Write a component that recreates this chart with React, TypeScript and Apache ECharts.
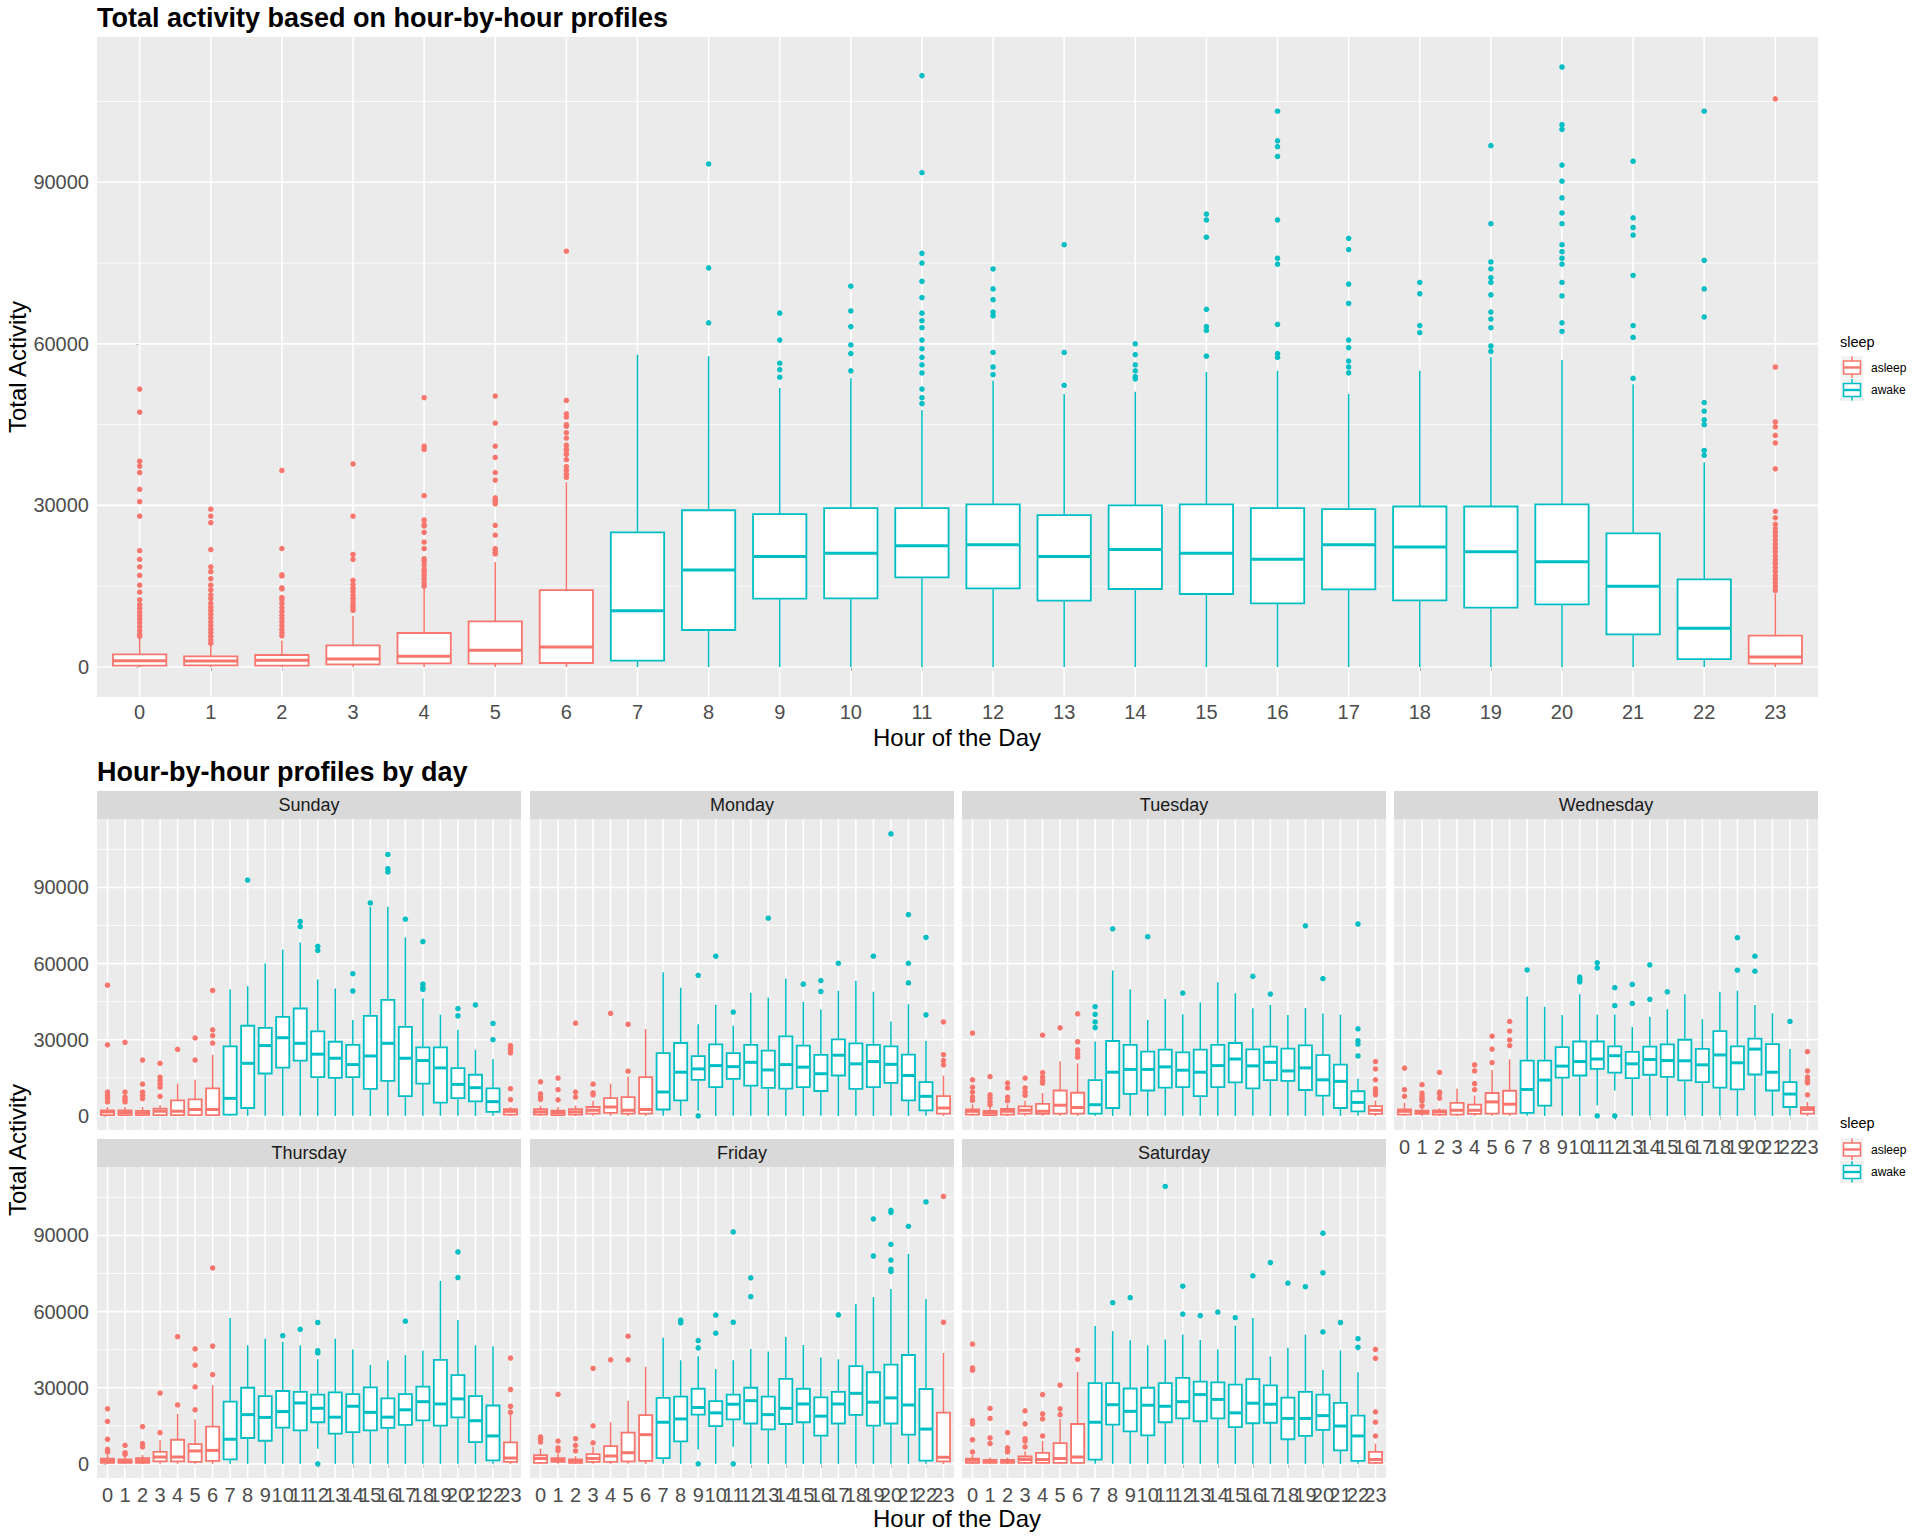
import React, { useEffect, useRef } from 'react';
import * as echarts from 'echarts';

// ---------- categories / ticks ----------
const HOURS = [0, 1, 2, 3, 4, 5, 6, 7, 8, 9, 10, 11, 12, 13, 14, 15, 16, 17, 18, 19, 20, 21, 22, 23];
const SLEEP_BY_HOUR = [
  'asleep', 'asleep', 'asleep', 'asleep', 'asleep', 'asleep', 'asleep',
  'awake', 'awake', 'awake', 'awake', 'awake', 'awake', 'awake', 'awake',
  'awake', 'awake', 'awake', 'awake', 'awake', 'awake', 'awake', 'awake',
  'asleep',
];
const SLEEP_LEVELS = ['asleep', 'awake'];
const DAYS = ['Sunday', 'Monday', 'Tuesday', 'Wednesday', 'Thursday', 'Friday', 'Saturday'];
const Y_TICKS = [0, 30000, 60000, 90000];
const Y_MINOR = [15000, 45000, 75000, 105000];
const Y_MIN = -5570;
const Y_MAX = 116970;
const X_MIN = -0.6;
const X_MAX = 23.6;

// ---------- box statistics per hour: [lower whisker, Q1, median, Q3, upper whisker] ----------
const ALL_BOX = [
  [0, 250, 1180, 2350, 5300], [0, 310, 1110, 1980, 3900], [0, 250, 1240, 2230, 4900], [0, 490, 1480, 4020, 9500],
  [0, 680, 1980, 6310, 14600], [0, 620, 3090, 8470, 19500], [0, 740, 3710, 14290, 34300], [0, 1180, 10450, 25000, 58000],
  [0, 6870, 18000, 29100, 57700], [0, 12680, 20500, 28400, 51800], [0, 12740, 21100, 29500, 53600], [0, 16640, 22500, 29500, 47700],
  [0, 14600, 22700, 30200, 53200], [0, 12310, 20500, 28200, 50700], [0, 14480, 21800, 30000, 51100], [0, 13550, 21100, 30200, 54800],
  [0, 11820, 20000, 29500, 55000], [0, 14410, 22700, 29300, 50700], [0, 12370, 22300, 29800, 55000], [0, 11010, 21400, 29800, 57500],
  [0, 11630, 19550, 30200, 57000], [0, 6060, 14970, 24800, 52500], [0, 1480, 7180, 16270, 38000], [0, 620, 1860, 5810, 13600],
];
const ALL_OUT = [
  [51600, 47300, 38200, 37300, 36100, 33000, 30700, 28000, 21600, 20000, 18600, 17000, 15200, 13900, 12500, 11600, 10900, 10200, 9500, 8900, 8200, 7500, 6800, 6100, 5700],
  [29300, 28000, 26800, 21800, 18600, 17700, 16400, 15200, 14300, 13400, 12700, 11800, 11100, 10500, 9800, 9100, 8400, 7700, 7000, 6400, 5700, 5000, 4400],
  [36500, 22000, 17100, 16900, 14700, 14500, 12900, 12500, 11800, 11000, 10300, 9600, 9000, 8400, 7700, 7000, 6400, 5800],
  [37700, 28000, 20900, 20000, 16100, 15300, 14600, 14000, 13300, 12700, 12100, 11500, 11000, 10500],
  [50000, 41000, 40400, 31800, 27300, 26500, 26200, 25000, 23200, 22000, 20100, 19700, 19000, 18200, 17700, 17000, 16300, 15600, 15000],
  [50300, 45300, 41000, 38900, 36100, 34700, 31400, 31000, 30700, 30300, 26300, 24500, 22000, 21700, 21300, 21000],
  [77200, 49500, 47000, 46400, 45000, 44700, 43500, 42500, 41200, 40500, 40200, 39500, 38500, 37200, 36500, 35800, 35200],
  [],
  [93400, 74100, 63900],
  [65700, 60700, 56400, 55200, 53800],
  [70700, 66100, 63200, 59800, 58200, 55000],
  [109800, 91800, 76800, 75000, 71600, 68600, 65700, 64300, 63000, 60700, 59100, 57500, 56100, 54600, 51600, 50000, 48900],
  [73900, 70200, 68200, 65900, 65200, 58400, 55700, 54300],
  [78400, 58400, 52300],
  [60000, 58000, 56100, 55000, 53900, 53500],
  [84100, 83000, 79800, 66400, 63200, 62500, 57700],
  [103200, 97700, 96600, 94800, 83000, 75900, 74800, 63600, 58200, 57500],
  [79600, 77500, 71100, 67500, 60700, 59300, 56800, 55700, 54600],
  [71400, 69300, 63400, 62100],
  [96800, 82300, 75200, 73900, 72300, 71400, 69100, 65900, 64600, 63000, 59600, 58600],
  [111400, 100700, 99800, 93200, 90200, 87100, 84300, 82300, 78400, 77100, 75900, 74800, 71400, 68900, 63900, 62300],
  [93900, 83400, 81600, 80200, 72700, 63400, 61200, 53600],
  [103200, 75500, 70200, 65000, 49100, 47500, 45900, 45000, 40200, 39300],
  [105500, 55700, 45500, 44600, 43000, 41600, 36800, 28900, 27700, 26500, 25700, 25000, 24300, 23600, 22800, 22100, 21400, 20600, 19900, 19200, 18500, 17800, 17000, 16300, 15600, 14900, 14200],
];

const SUNDAY_BOX = [
  [0, 260, 1560, 2200, 3500], [0, 260, 1300, 2200, 3500], [0, 260, 1170, 1950, 3500], [0, 260, 1830, 2870, 4200],
  [0, 260, 1830, 6100, 12700], [0, 260, 2500, 6500, 14200], [0, 260, 2500, 10800, 24100], [0, 500, 6900, 27400, 49800],
  [0, 3100, 20700, 35500, 51100], [0, 16700, 27700, 34700, 60000], [0, 19000, 30800, 39000, 65500], [0, 21800, 28600, 42300, 68300],
  [0, 15300, 24300, 33300, 53700], [0, 15000, 22700, 29200, 50200], [0, 15300, 20200, 28000, 37800], [0, 10600, 23600, 39400, 82400],
  [0, 13800, 28600, 45700, 82400], [0, 7800, 22700, 35100, 70300], [0, 12700, 21800, 27000, 46300], [0, 5200, 18900, 27000, 39900],
  [0, 7000, 12400, 18800, 33900], [0, 5700, 11100, 16200, 26000], [0, 1600, 5600, 10800, 22400], [0, 500, 1800, 2600, 3500],
];
const SUNDAY_OUT = [
  [51500, 28000, 9400, 8100, 7400, 6800, 5500], [29000, 9400, 7400, 6400, 5500], [22000, 12500, 9400, 8100, 6800],
  [20700, 15300, 14000, 12700, 11300, 7700], [26200], [30700, 22000], [49400, 33900, 31600, 28700], [], [92900], [], [],
  [76600, 74600], [66800, 65200], [], [56000, 49200], [83900], [103000, 97400, 96100], [77500], [68700, 51900, 50500, 49800],
  [], [42300, 39400], [43700], [36400, 30000], [27700, 26600, 25700, 24800, 10700, 6400],
];

const MONDAY_BOX = [
  [0, 500, 1560, 2600, 4000], [0, 260, 1300, 2100, 3500], [0, 500, 1560, 2600, 4000], [0, 900, 2200, 3500, 6000],
  [0, 1200, 3500, 7000, 12700], [0, 900, 2200, 7400, 15500], [0, 900, 2500, 15300, 34200], [0, 2500, 9400, 24700, 56600],
  [0, 6100, 17200, 28700, 50500], [2000, 14200, 18500, 23500, 36100], [0, 11300, 19800, 28200, 43800], [0, 14600, 19400, 24700, 35500],
  [0, 11900, 21100, 28000, 48500], [0, 11000, 18100, 25700, 46600], [0, 10700, 20200, 31300, 54100], [0, 11300, 19200, 27700, 44900],
  [0, 9800, 16600, 24000, 41900], [0, 15900, 23900, 30100, 49300], [0, 10600, 20500, 28600, 53200], [0, 11300, 21400, 28000, 48900],
  [0, 13000, 20300, 27400, 37200], [0, 6100, 15900, 24100, 44000], [0, 2200, 7700, 13300, 29500], [0, 900, 3100, 7800, 15900],
];
const MONDAY_OUT = [
  [13400, 8700, 7400, 6500], [14900, 10300, 6300], [36500, 9400, 7400], [12500, 9100, 8300], [40400], [36100, 17600], [], [], [],
  [55400, 0], [62900], [40900], [], [77900], [], [51900], [53300, 49000], [60100], [], [62900], [111100],
  [79300, 60100, 52400], [70300, 39800], [37000, 24100, 21800, 20100],
];

const TUESDAY_BOX = [
  [0, 500, 1800, 2500, 4500], [0, 260, 1300, 2000, 3500], [0, 500, 1800, 2700, 4500], [0, 900, 2200, 3700, 6000],
  [0, 800, 1800, 4700, 9000], [0, 900, 4200, 10000, 21500], [0, 900, 3300, 9100, 20700], [0, 900, 4400, 14100, 29300],
  [0, 3100, 17200, 29500, 57300], [0, 8700, 18300, 28000, 49800], [0, 10000, 18300, 25300, 37800], [0, 11100, 19300, 26100, 46000],
  [0, 11300, 18000, 25000, 40000], [0, 7800, 17200, 26100, 44700], [0, 11300, 19800, 28000, 52600], [0, 13200, 22400, 28700, 48300],
  [0, 10800, 19700, 26200, 42400], [0, 14100, 21100, 27300, 43700], [0, 13800, 17700, 26500, 39700], [0, 10200, 18900, 27800, 42500],
  [0, 8000, 14200, 23900, 40300], [0, 3100, 13600, 20200, 39900], [0, 1800, 5300, 9700, 14600], [0, 800, 2200, 3800, 6000],
];
const TUESDAY_OUT = [
  [32600, 14200, 11300, 9400, 7400, 6100], [15500, 8300, 7000, 5700, 4400], [12900, 11000, 7400, 6000], [14900, 11000, 9400, 8100],
  [31800, 17000, 15300, 14000, 12900], [34700], [40200, 29200, 26000, 24400, 23100], [43000, 40000, 37000, 34800], [73700], [],
  [70600], [], [48400], [], [], [], [55000], [48000], [], [74900], [54100], [], [75600, 34300, 29600, 28300, 23600],
  [21400, 18500, 14200, 10700, 9400, 8300],
];

const WEDNESDAY_BOX = [
  [0, 500, 1800, 2500, 5200], [0, 800, 1600, 2100, 3000], [0, 500, 1600, 2200, 3000], [0, 500, 2200, 5100, 10700],
  [0, 800, 2200, 4400, 8000], [0, 900, 5500, 9000, 18100], [0, 900, 4600, 9900, 22300], [0, 1200, 10400, 21800, 47000],
  [0, 4000, 14100, 21800, 43000], [0, 15100, 19600, 27100, 39700], [0, 15900, 21400, 29300, 47900], [4200, 18500, 22400, 29300, 39800],
  [10000, 17000, 23700, 27400, 39900], [0, 14900, 20500, 25200, 35000], [0, 16200, 22200, 27300, 39100], [0, 15400, 21800, 28200, 42000],
  [0, 14000, 21700, 30000, 47900], [0, 13300, 20100, 26400, 38100], [0, 11100, 24000, 33400, 48900], [0, 10400, 20900, 27400, 49300],
  [0, 16300, 26300, 30400, 43700], [0, 10000, 17200, 28300, 40400], [0, 3500, 8600, 13300, 26300], [0, 900, 2500, 3400, 5500],
];
const WEDNESDAY_OUT = [
  [18800, 10300, 7700], [12300, 9000, 7800, 6800, 5900, 3900], [17100, 9400, 8700, 7000], [], [20100, 17700, 12700, 10300],
  [31400, 26300, 21000], [37200, 33400, 29900, 27700], [57500], [], [], [54700, 53700, 52800], [60300, 58300, 0],
  [50500, 43400, 0], [51800, 44300], [59500, 45900], [48900], [], [], [], [70200, 57400], [62900, 57000], [], [37200],
  [25300, 17700, 15300, 14000, 13000, 8300],
];

const THURSDAY_BOX = [
  [0, 400, 1300, 2100, 3500], [0, 400, 1200, 1800, 3000], [0, 400, 1300, 2300, 3500], [0, 1000, 2700, 4700, 9300],
  [0, 1000, 2700, 9500, 19700], [0, 800, 5100, 7800, 17500], [0, 1200, 5300, 14700, 31000], [0, 1800, 9700, 24500, 57500],
  [0, 10200, 19400, 30000, 46700], [0, 9100, 18300, 26700, 49300], [0, 14300, 20600, 28700, 48100], [0, 13200, 24000, 28400, 46600],
  [6000, 16400, 21900, 27300, 41200], [0, 11900, 18400, 28200, 49300], [0, 12500, 22700, 27500, 45100], [0, 13200, 20300, 30100, 39000],
  [0, 14200, 18400, 25800, 40700], [0, 15400, 21300, 27500, 42900], [0, 17100, 24500, 30400, 44600], [0, 15100, 23600, 41000, 72100],
  [0, 18300, 25600, 35000, 56700], [0, 8600, 17000, 26700, 46700], [0, 1400, 11000, 23000, 46300], [0, 800, 2300, 8500, 19300],
];
const THURSDAY_OUT = [
  [21700, 16700, 9700, 5700, 4700], [7300, 4400, 3700], [14700, 8000, 6700], [27900, 12300], [50100, 23200],
  [45300, 38900, 30300, 21300], [77200, 46400, 35200], [], [], [], [50500], [53000], [55700, 44600, 43700, 0], [], [], [],
  [], [56200], [], [], [83500, 73400], [], [], [41700, 29300, 22700, 20300],
];

const FRIDAY_BOX = [
  [0, 400, 2100, 3400, 6000], [0, 800, 1400, 2300, 4000], [0, 400, 1000, 1800, 3000], [0, 800, 2100, 3800, 6700],
  [0, 800, 3100, 7000, 16400], [0, 1000, 4400, 12300, 24900], [0, 1200, 11500, 19200, 38300], [0, 2300, 16400, 26000, 49700],
  [0, 8900, 17700, 26500, 40800], [5700, 19400, 22200, 29600, 42400], [0, 14900, 20100, 24700, 37300], [6700, 17500, 23500, 27300, 40800],
  [0, 15900, 24900, 30000, 45300], [0, 13600, 19400, 26500, 44300], [0, 15700, 21900, 33500, 50000], [0, 16400, 23600, 29600, 46800],
  [0, 11100, 18800, 26200, 41900], [0, 15900, 23600, 28400, 41200], [0, 19300, 27800, 38500, 63000], [0, 15100, 24300, 36100, 65700],
  [0, 15900, 26000, 39100, 68900], [0, 11500, 23200, 42900, 82700], [0, 1300, 13700, 29500, 65000], [0, 1000, 2600, 20200, 43700],
];
const FRIDAY_OUT = [
  [10600, 9700, 8600], [27400, 9000, 6300, 5200], [9900, 7300, 5100], [37600, 15000, 8300], [41000], [50300, 41000], [], [],
  [56600, 55600], [48600, 45700, 0], [58600, 51500], [91400, 55800, 0], [73300, 65900], [], [], [], [], [58700], [],
  [96500, 81900], [99900, 99100, 86500, 80300, 76700, 75800], [93600], [103200], [105400, 55800],
];

const SATURDAY_BOX = [
  [0, 400, 1400, 2100, 3500], [0, 400, 1000, 1600, 2500], [0, 400, 1000, 1600, 2500], [0, 400, 1700, 2900, 5000],
  [0, 400, 1700, 4300, 9000], [0, 400, 2100, 8200, 17700], [0, 400, 2700, 15700, 36300], [0, 1700, 16400, 31800, 54300],
  [0, 15500, 23300, 31800, 52300], [0, 12800, 20700, 29700, 48700], [0, 11200, 23100, 30000, 46700], [0, 16400, 22700, 31800, 49000],
  [0, 17900, 24500, 33900, 51000], [0, 16800, 27300, 32400, 48800], [0, 17900, 25400, 32100, 45100], [0, 14500, 20100, 31200, 54500],
  [0, 16000, 23900, 33400, 57500], [0, 16200, 23500, 30900, 42300], [0, 9700, 17900, 26100, 45800], [0, 11000, 17900, 28400, 50900],
  [0, 13400, 19000, 27300, 37000], [0, 5300, 14900, 24000, 44700], [0, 1200, 11000, 19000, 36100], [0, 400, 1700, 4700, 8000],
];
const SATURDAY_OUT = [
  [47200, 37800, 36900, 17000, 15800, 9500, 4700], [21900, 17900, 10200, 8000], [12300, 6300, 5200, 4700],
  [20900, 15800, 9900, 9000, 6700], [27300, 19700, 17700, 11000], [31000, 21700, 19400], [44700, 41200], [], [63500], [65500],
  [], [109300], [70000, 59000], [58400], [59800], [57600], [74100], [79300], [71200], [69800], [90900, 75300, 52000], [55700],
  [49300, 45900], [45100, 41600, 20500, 16400, 11000],
];

const DAY_BOXES = [SUNDAY_BOX, MONDAY_BOX, TUESDAY_BOX, WEDNESDAY_BOX, THURSDAY_BOX, FRIDAY_BOX, SATURDAY_BOX];
const DAY_OUTS = [SUNDAY_OUT, MONDAY_OUT, TUESDAY_OUT, WEDNESDAY_OUT, THURSDAY_OUT, FRIDAY_OUT, SATURDAY_OUT];

// ---------- styling ----------
const FONT = '"Liberation Sans", Arial, Helvetica, sans-serif';
const COLORS: Record<string, string> = { asleep: '#F8766D', awake: '#00BFC4' };
const PANEL_BG = '#EBEBEB';
const STRIP_BG = '#D9D9D9';
const TICK_COLOR = '#333333';
const LABEL_COLOR = '#4D4D4D';

// label positions: the hours plus a blank sentinel at the axis end, so that ECharts'
// min/max label overlap fixing only ever hides the blank one
const X_LABEL_VALUES = [...HOURS, X_MAX];

const gridRender = (params: any, api: any) => {
  const cs = params.coordSys;
  const kind = api.value(2);
  if (kind === 2) {
    const p = api.coord([api.value(0), 0]);
    return { type: 'line', shape: { x1: p[0], y1: cs.y, x2: p[0], y2: cs.y + cs.height }, style: { stroke: '#FFFFFF', lineWidth: 1.6 } };
  }
  const p = api.coord([0, api.value(1)]);
  return {
    type: 'line',
    shape: { x1: cs.x, y1: p[1], x2: cs.x + cs.width, y2: p[1] },
    style: { stroke: '#FFFFFF', lineWidth: kind === 0 ? 1.6 : 0.8 },
  };
};

const boxRender = (color: string) => (params: any, api: any) => {
  const x = api.value(0);
  const lo = api.coord([x, api.value(1)]);
  const q1 = api.coord([x, api.value(2)]);
  const md = api.coord([x, api.value(3)]);
  const q3 = api.coord([x, api.value(4)]);
  const hi = api.coord([x, api.value(5)]);
  const w = api.size([0.75, 0])[0];
  const cx = q1[0];
  return {
    type: 'group',
    children: [
      { type: 'line', shape: { x1: cx, y1: hi[1], x2: cx, y2: q3[1] }, style: { stroke: color, lineWidth: 1.5 } },
      { type: 'line', shape: { x1: cx, y1: q1[1], x2: cx, y2: lo[1] }, style: { stroke: color, lineWidth: 1.5 } },
      { type: 'rect', shape: { x: cx - w / 2, y: q3[1], width: w, height: Math.max(q1[1] - q3[1], 0.5) }, style: { fill: '#FFFFFF', stroke: color, lineWidth: 1.8 } },
      { type: 'line', shape: { x1: cx - w / 2, y1: md[1], x2: cx + w / 2, y2: md[1] }, style: { stroke: color, lineWidth: 3 } },
    ],
  };
};

type Panel = {
  box: number[][]; out: number[][]; left: number; top: number; width: number; height: number;
  xLabels: boolean; yLabels: boolean; xMargin: number; strip?: string;
};

const COL_LEFT = [97, 530, 962, 1394];
const ROW_TOP = [819, 1167];
const FACET_W = 424;
const FACET_H = 311;
const STRIP_H = 28;

const PANELS: Panel[] = [
  { box: ALL_BOX, out: ALL_OUT, left: 97, top: 37, width: 1721, height: 660, xLabels: true, yLabels: true, xMargin: 5 },
  ...DAYS.map((d, i) => {
    const row = Math.floor(i / 4);
    const col = i % 4;
    return {
      box: DAY_BOXES[i], out: DAY_OUTS[i], left: COL_LEFT[col], top: ROW_TOP[row], width: FACET_W, height: FACET_H,
      xLabels: row === 1 || col === 3, yLabels: col === 0, xMargin: 7, strip: d,
    };
  }),
];

function buildOption() {
  const grid: any[] = [];
  const xAxis: any[] = [];
  const yAxis: any[] = [];
  const series: any[] = [];
  const graphic: any[] = [];

  PANELS.forEach((p, gi) => {
    grid.push({ left: p.left, top: p.top, width: p.width, height: p.height, show: true, backgroundColor: PANEL_BG, borderWidth: 0, containLabel: false });
    xAxis.push({
      gridIndex: gi, type: 'value', min: X_MIN, max: X_MAX,
      axisLine: { show: false }, splitLine: { show: false },
      axisTick: { show: p.xLabels, length: 4, lineStyle: { color: TICK_COLOR, width: 1 }, customValues: HOURS },
      axisLabel: {
        show: p.xLabels, customValues: X_LABEL_VALUES, color: LABEL_COLOR, fontSize: 20, fontFamily: FONT, margin: p.xMargin,
        showMinLabel: true, showMaxLabel: false, hideOverlap: false,
        formatter: (v: number) => (v > 23 ? '' : String(v)),
      },
    });
    yAxis.push({
      gridIndex: gi, type: 'value', min: Y_MIN, max: Y_MAX,
      axisLine: { show: false }, splitLine: { show: false },
      axisTick: { show: p.yLabels, length: 4, lineStyle: { color: TICK_COLOR, width: 1 }, customValues: Y_TICKS },
      axisLabel: {
        show: p.yLabels, customValues: Y_TICKS, color: LABEL_COLOR, fontSize: 20, fontFamily: FONT, margin: 8,
        showMinLabel: true, showMaxLabel: true, formatter: (v: number) => String(v),
      },
    });

    const gridData = [
      ...Y_TICKS.map((v) => [0, v, 0]),
      ...Y_MINOR.map((v) => [0, v, 1]),
      ...HOURS.map((h) => [h, 0, 2]),
    ];
    series.push({ type: 'custom', name: 'gridlines', xAxisIndex: gi, yAxisIndex: gi, data: gridData, renderItem: gridRender, silent: true, z: 1 });

    SLEEP_LEVELS.forEach((lvl) => {
      const boxes: number[][] = [];
      const pts: number[][] = [];
      HOURS.forEach((h, i) => {
        if (SLEEP_BY_HOUR[i] !== lvl) return;
        boxes.push([h, ...p.box[i]]);
        p.out[i].forEach((v) => pts.push([h, v]));
      });
      series.push({ type: 'custom', name: lvl, xAxisIndex: gi, yAxisIndex: gi, data: boxes, renderItem: boxRender(COLORS[lvl]), z: 2, silent: true });
      series.push({ type: 'scatter', name: lvl, xAxisIndex: gi, yAxisIndex: gi, data: pts, symbol: 'circle', symbolSize: 5.5, itemStyle: { color: COLORS[lvl], opacity: 1 }, z: 3, silent: true });
    });

    if (p.strip) {
      graphic.push({ type: 'rect', shape: { x: p.left, y: p.top - STRIP_H, width: p.width, height: STRIP_H }, style: { fill: STRIP_BG }, silent: true });
      graphic.push({ type: 'text', x: p.left + p.width / 2, y: p.top - STRIP_H / 2, style: { text: p.strip, fill: '#1A1A1A', fontSize: 18, fontFamily: FONT, textAlign: 'center', textVerticalAlign: 'middle' }, silent: true });
    }
  });

  // axis titles
  const axisTitle = (text: string, x: number, y: number, rot: number) => ({
    type: 'text', x, y, rotation: rot,
    style: { text, fill: '#000000', fontSize: 24, fontFamily: FONT, textAlign: 'center', textVerticalAlign: 'middle' }, silent: true,
  });
  graphic.push(axisTitle('Total Activity', 17, 367, Math.PI / 2));
  graphic.push(axisTitle('Hour of the Day', 957, 737, 0));
  graphic.push(axisTitle('Total Activity', 17, 1150, Math.PI / 2));
  graphic.push(axisTitle('Hour of the Day', 957, 1518, 0));

  // legends
  const legend = (titleY: number, keyY: number) => {
    const kids: any[] = [
      { type: 'text', x: 1840, y: titleY, style: { text: 'sleep', fill: '#000000', fontSize: 14.5, fontFamily: FONT, textAlign: 'left', textVerticalAlign: 'middle' } },
    ];
    SLEEP_LEVELS.forEach((lvl, i) => {
      const y = keyY + i * 22.5;
      const c = COLORS[lvl];
      kids.push({ type: 'rect', shape: { x: 1841, y, width: 22, height: 22.5 }, style: { fill: '#F2F2F2' } });
      kids.push({ type: 'line', shape: { x1: 1852, y1: y + 0.5, x2: 1852, y2: y + 22 }, style: { stroke: c, lineWidth: 1.5 } });
      kids.push({ type: 'rect', shape: { x: 1843.5, y: y + 5, width: 17, height: 13 }, style: { fill: '#FFFFFF', stroke: c, lineWidth: 1.6 } });
      kids.push({ type: 'line', shape: { x1: 1843.5, y1: y + 11.5, x2: 1860.5, y2: y + 11.5 }, style: { stroke: c, lineWidth: 2.4 } });
      kids.push({ type: 'text', x: 1871, y: y + 11.5, style: { text: lvl, fill: '#000000', fontSize: 12, fontFamily: FONT, textAlign: 'left', textVerticalAlign: 'middle' } });
    });
    return { type: 'group', children: kids, silent: true };
  };
  graphic.push(legend(342, 356));
  graphic.push(legend(1123, 1138));

  return {
    animation: false,
    backgroundColor: '#FFFFFF',
    textStyle: { fontFamily: FONT },
    title: [
      { text: 'Total activity based on hour-by-hour profiles', left: 97, top: 4, padding: 0, textStyle: { fontSize: 27, fontWeight: 'bold', color: '#000000', fontFamily: FONT } },
      { text: 'Hour-by-hour profiles by day', left: 97, top: 758, padding: 0, textStyle: { fontSize: 27, fontWeight: 'bold', color: '#000000', fontFamily: FONT } },
    ],
    grid, xAxis, yAxis, series, graphic,
  };
}

export default function App() {
  const ref = useRef<HTMLDivElement>(null);
  useEffect(() => {
    document.body.style.margin = '0';
    const chart = echarts.init(ref.current as HTMLDivElement, null, { renderer: 'svg' });
    chart.setOption(buildOption() as any);
    return () => chart.dispose();
  }, []);
  return <div ref={ref} style={{ width: 1920, height: 1536 }} />;
}
